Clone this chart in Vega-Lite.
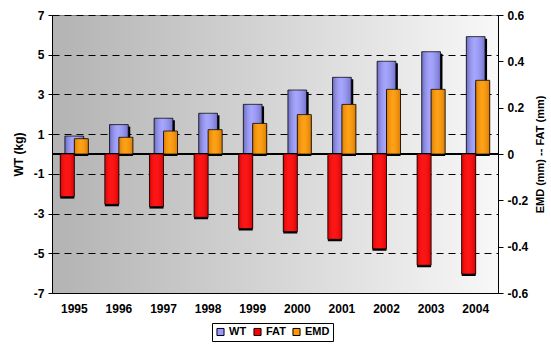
{
  "$schema": "https://vega.github.io/schema/vega-lite/v6.json",
  "autosize": "none",
  "width": 446,
  "height": 278,
  "padding": {"left": 52, "top": 15, "right": 53, "bottom": 55},
  "background": "white",
  "config": {
    "font": "Liberation Sans",
    "view": {
      "stroke": "#808080",
      "strokeWidth": 1,
      "fill": {"gradient": "linear", "x1": 0, "y1": 0, "x2": 1, "y2": 0,
        "stops": [{"offset": 0, "color": "#b3b3b3"}, {"offset": 1, "color": "#f8f8f8"}]}
    },
    "axis": {"labelFont": "Liberation Sans", "labelFontWeight": "bold", "labelFontSize": 12, "labelColor": "black",
      "titleFont": "Liberation Sans", "titleFontWeight": "bold", "titleFontSize": 12, "titleColor": "black",
      "domainColor": "black", "tickColor": "black"}
  },
  "data": {"values": [
    {"year": "1995", "series": "WT", "value": 0.9},
    {"year": "1996", "series": "WT", "value": 1.48},
    {"year": "1997", "series": "WT", "value": 1.8},
    {"year": "1998", "series": "WT", "value": 2.05},
    {"year": "1999", "series": "WT", "value": 2.5},
    {"year": "2000", "series": "WT", "value": 3.22},
    {"year": "2001", "series": "WT", "value": 3.86},
    {"year": "2002", "series": "WT", "value": 4.67},
    {"year": "2003", "series": "WT", "value": 5.15},
    {"year": "2004", "series": "WT", "value": 5.91},
    {"year": "1995", "series": "FAT", "value": -0.184},
    {"year": "1996", "series": "FAT", "value": -0.217},
    {"year": "1997", "series": "FAT", "value": -0.227},
    {"year": "1998", "series": "FAT", "value": -0.273},
    {"year": "1999", "series": "FAT", "value": -0.322},
    {"year": "2000", "series": "FAT", "value": -0.335},
    {"year": "2001", "series": "FAT", "value": -0.368},
    {"year": "2002", "series": "FAT", "value": -0.409},
    {"year": "2003", "series": "FAT", "value": -0.48},
    {"year": "2004", "series": "FAT", "value": -0.518},
    {"year": "1995", "series": "EMD", "value": 0.066},
    {"year": "1996", "series": "EMD", "value": 0.072},
    {"year": "1997", "series": "EMD", "value": 0.099},
    {"year": "1998", "series": "EMD", "value": 0.105},
    {"year": "1999", "series": "EMD", "value": 0.132},
    {"year": "2000", "series": "EMD", "value": 0.17},
    {"year": "2001", "series": "EMD", "value": 0.214},
    {"year": "2002", "series": "EMD", "value": 0.279},
    {"year": "2003", "series": "EMD", "value": 0.279},
    {"year": "2004", "series": "EMD", "value": 0.318}
  ]},
  "encoding": {
    "x": {"field": "year", "type": "nominal", "scale": {"paddingInner": 0, "paddingOuter": 0},
      "axis": {"title": null, "labelAngle": 0, "ticks": false, "domain": true, "labelPadding": 10}}
  },
  "layer": [
    {
      "transform": [{"filter": "datum.series == 'WT'"}],
      "encoding": {
        "y": {"field": "value", "type": "quantitative",
          "scale": {"domain": [-7, 7], "nice": false, "zero": false},
          "axis": {"title": "WT (kg)", "values": [-7, -5, -3, -1, 1, 3, 5, 7], "orient": "left",
            "grid": true, "gridColor": "black", "gridDash": [7, 5], "gridWidth": 1, "tickSize": 4,
            "titlePadding": 8, "labelPadding": 4,
            "labelExpr": "(datum.value < 0 ? '-' : '') + format(abs(datum.value), 'd')"}}
      },
      "layer": [
        {"mark": {"type": "bar", "color": "black", "width": {"band": 0.42}, "xOffset": 2, "yOffset": 2}},
        {"mark": {"type": "bar", "width": {"band": 0.42}, "stroke": "black", "strokeWidth": 0.8},
          "encoding": {"color": {"field": "series", "type": "nominal",
            "scale": {"domain": ["WT", "FAT", "EMD"], "range": ["#9999ff", "#ff0000", "#ff9900"]},
            "legend": {"title": null, "orient": "none", "legendX": 160, "legendY": 308, "direction": "horizontal",
              "strokeColor": "black", "padding": 3, "symbolType": "square", "symbolSize": 50,
              "symbolStrokeColor": "black", "symbolStrokeWidth": 1, "labelFontWeight": "bold", "labelFontSize": 11,
              "labelFont": "Liberation Sans", "columnPadding": 4, "labelOffset": 3, "fillColor": "white"}}}},
        {"mark": {"type": "bar", "width": {"band": 0.42},
          "fill": {"gradient": "linear", "x1": 0, "y1": 0, "x2": 1, "y2": 0,
            "stops": [{"offset": 0, "color": "rgba(0,0,40,0.3)"}, {"offset": 0.45, "color": "rgba(255,255,255,0.12)"}, {"offset": 1, "color": "rgba(0,0,40,0.25)"}]}}},
        {"mark": {"type": "rule", "color": "black", "strokeWidth": 1.2}, "encoding": {"y": {"datum": 0}, "x": null}}
      ]
    },
    {
      "transform": [{"filter": "datum.series != 'WT'"}],
      "encoding": {
        "y": {"field": "value", "type": "quantitative",
          "scale": {"domain": [-0.6, 0.6], "nice": false, "zero": false},
          "axis": {"title": "EMD (mm) -- FAT (mm)", "orient": "right", "values": [-0.6, -0.4, -0.2, 0, 0.2, 0.4, 0.6],
            "grid": false, "tickSize": 5, "titleAngle": 270, "titlePadding": 18, "titleFontSize": 11, "labelPadding": 4,
            "labelExpr": "datum.value == 0 ? '0' : (datum.value < 0 ? '-' : '') + format(abs(datum.value), '.1f')"}},
        "xOffset": {"field": "series", "type": "nominal", "sort": ["FAT", "EMD"],
          "scale": {"domain": ["FAT", "EMD"], "paddingInner": 0, "paddingOuter": 0.59}}
      },
      "layer": [
        {"mark": {"type": "bar", "color": "black", "yOffset": 2, "xOffset": 2}},
        {"mark": {"type": "bar", "stroke": "black", "strokeWidth": 0.8},
          "encoding": {"color": {"field": "series", "type": "nominal"}}},
        {"mark": {"type": "bar",
          "fill": {"gradient": "linear", "x1": 0, "y1": 0, "x2": 1, "y2": 0,
            "stops": [{"offset": 0, "color": "rgba(60,0,0,0.2)"}, {"offset": 0.45, "color": "rgba(255,255,255,0.08)"}, {"offset": 1, "color": "rgba(60,0,0,0.2)"}]}}}
      ]
    }
  ],
  "resolve": {"scale": {"y": "independent"}}
}
